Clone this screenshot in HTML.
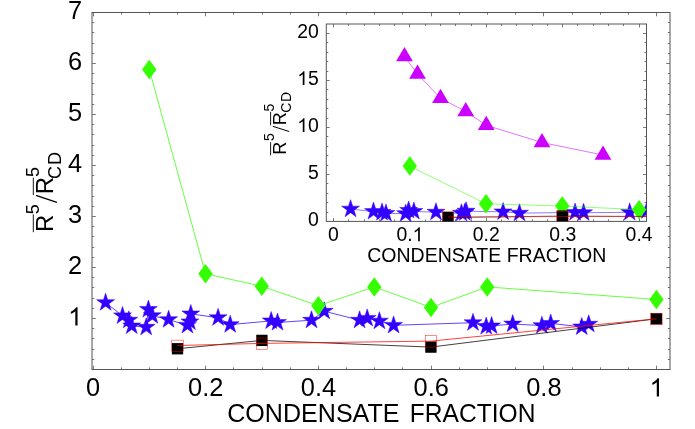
<!DOCTYPE html>
<html><head><meta charset="utf-8"><title>chart</title>
<style>
html,body{margin:0;padding:0;background:#fff;}
svg{display:block;will-change:transform;}
text{font-family:"Liberation Sans",sans-serif;fill:#000;}
</style></head><body>
<svg width="695" height="429" viewBox="0 0 695 429">
<rect x="0" y="0" width="695" height="429" fill="#fff"/>
<defs>
<clipPath id="cm"><rect x="92.0" y="12.5" width="578.0" height="357.0"/></clipPath>
<clipPath id="ci"><rect x="326.3" y="24.0" width="320.2" height="197.4"/></clipPath>
</defs>
<!-- main plot -->
<rect x="92.0" y="12.5" width="578.0" height="357.0" fill="#fff" stroke="#555" stroke-width="1"/>
<path d="M93.50,369.5v-3.8M93.50,12.5v3.8M121.50,369.5v-2.2M121.50,12.5v2.2M149.50,369.5v-2.2M149.50,12.5v2.2M177.50,369.5v-2.2M177.50,12.5v2.2M205.50,369.5v-3.8M205.50,12.5v3.8M233.50,369.5v-2.2M233.50,12.5v2.2M262.50,369.5v-2.2M262.50,12.5v2.2M290.50,369.5v-2.2M290.50,12.5v2.2M318.50,369.5v-3.8M318.50,12.5v3.8M346.50,369.5v-2.2M346.50,12.5v2.2M374.50,369.5v-2.2M374.50,12.5v2.2M402.50,369.5v-2.2M402.50,12.5v2.2M431.50,369.5v-3.8M431.50,12.5v3.8M459.50,369.5v-2.2M459.50,12.5v2.2M487.50,369.5v-2.2M487.50,12.5v2.2M515.50,369.5v-2.2M515.50,12.5v2.2M543.50,369.5v-3.8M543.50,12.5v3.8M572.50,369.5v-2.2M572.50,12.5v2.2M600.50,369.5v-2.2M600.50,12.5v2.2M628.50,369.5v-2.2M628.50,12.5v2.2M656.50,369.5v-3.8M656.50,12.5v3.8M92.0,359.50h2.2M670.0,359.50h-2.2M92.0,349.50h2.2M670.0,349.50h-2.2M92.0,338.50h2.2M670.0,338.50h-2.2M92.0,328.50h2.2M670.0,328.50h-2.2M92.0,318.50h3.8M670.0,318.50h-3.8M92.0,308.50h2.2M670.0,308.50h-2.2M92.0,298.50h2.2M670.0,298.50h-2.2M92.0,287.50h2.2M670.0,287.50h-2.2M92.0,277.50h2.2M670.0,277.50h-2.2M92.0,267.50h3.8M670.0,267.50h-3.8M92.0,257.50h2.2M670.0,257.50h-2.2M92.0,247.50h2.2M670.0,247.50h-2.2M92.0,236.50h2.2M670.0,236.50h-2.2M92.0,226.50h2.2M670.0,226.50h-2.2M92.0,216.50h3.8M670.0,216.50h-3.8M92.0,206.50h2.2M670.0,206.50h-2.2M92.0,196.50h2.2M670.0,196.50h-2.2M92.0,185.50h2.2M670.0,185.50h-2.2M92.0,175.50h2.2M670.0,175.50h-2.2M92.0,165.50h3.8M670.0,165.50h-3.8M92.0,155.50h2.2M670.0,155.50h-2.2M92.0,145.50h2.2M670.0,145.50h-2.2M92.0,134.50h2.2M670.0,134.50h-2.2M92.0,124.50h2.2M670.0,124.50h-2.2M92.0,114.50h3.8M670.0,114.50h-3.8M92.0,104.50h2.2M670.0,104.50h-2.2M92.0,94.50h2.2M670.0,94.50h-2.2M92.0,83.50h2.2M670.0,83.50h-2.2M92.0,73.50h2.2M670.0,73.50h-2.2M92.0,63.50h3.8M670.0,63.50h-3.8M92.0,53.50h2.2M670.0,53.50h-2.2M92.0,43.50h2.2M670.0,43.50h-2.2M92.0,32.50h2.2M670.0,32.50h-2.2M92.0,22.50h2.2M670.0,22.50h-2.2" stroke="#555" stroke-width="0.8" fill="none"/>
<g clip-path="url(#cm)">
<polyline points="105.60,302.60 122.50,315.80 128.80,320.20 131.70,325.90 146.20,327.20 148.40,309.50 152.30,315.60 168.60,319.60 187.40,325.30 189.90,321.90 190.80,313.90 218.10,317.70 230.20,324.60 271.20,320.90 277.50,322.50 311.50,320.20 324.20,311.20 359.60,320.20 367.20,318.30 379.40,321.10 393.60,325.30 473.00,322.70 486.20,326.50 491.60,325.90 512.70,324.00 541.90,325.60 550.70,323.40 581.70,326.90 588.70,324.20" fill="none" stroke="#3300ff" stroke-width="0.75"/>
<polygon points="105.60,293.20 107.71,299.69 114.54,299.70 109.02,303.71 111.13,310.20 105.60,306.19 100.07,310.20 102.18,303.71 96.66,299.70 103.49,299.69" fill="#3300ff" stroke="#3300ff" stroke-width="0.5"/>
<polygon points="122.50,306.40 124.61,312.89 131.44,312.90 125.92,316.91 128.03,323.40 122.50,319.39 116.97,323.40 119.08,316.91 113.56,312.90 120.39,312.89" fill="#3300ff" stroke="#3300ff" stroke-width="0.5"/>
<polygon points="128.80,310.80 130.91,317.29 137.74,317.30 132.22,321.31 134.33,327.80 128.80,323.79 123.27,327.80 125.38,321.31 119.86,317.30 126.69,317.29" fill="#3300ff" stroke="#3300ff" stroke-width="0.5"/>
<polygon points="131.70,316.50 133.81,322.99 140.64,323.00 135.12,327.01 137.23,333.50 131.70,329.49 126.17,333.50 128.28,327.01 122.76,323.00 129.59,322.99" fill="#3300ff" stroke="#3300ff" stroke-width="0.5"/>
<polygon points="146.20,317.80 148.31,324.29 155.14,324.30 149.62,328.31 151.73,334.80 146.20,330.79 140.67,334.80 142.78,328.31 137.26,324.30 144.09,324.29" fill="#3300ff" stroke="#3300ff" stroke-width="0.5"/>
<polygon points="148.40,300.10 150.51,306.59 157.34,306.60 151.82,310.61 153.93,317.10 148.40,313.09 142.87,317.10 144.98,310.61 139.46,306.60 146.29,306.59" fill="#3300ff" stroke="#3300ff" stroke-width="0.5"/>
<polygon points="152.30,306.20 154.41,312.69 161.24,312.70 155.72,316.71 157.83,323.20 152.30,319.19 146.77,323.20 148.88,316.71 143.36,312.70 150.19,312.69" fill="#3300ff" stroke="#3300ff" stroke-width="0.5"/>
<polygon points="168.60,310.20 170.71,316.69 177.54,316.70 172.02,320.71 174.13,327.20 168.60,323.19 163.07,327.20 165.18,320.71 159.66,316.70 166.49,316.69" fill="#3300ff" stroke="#3300ff" stroke-width="0.5"/>
<polygon points="187.40,315.90 189.51,322.39 196.34,322.40 190.82,326.41 192.93,332.90 187.40,328.89 181.87,332.90 183.98,326.41 178.46,322.40 185.29,322.39" fill="#3300ff" stroke="#3300ff" stroke-width="0.5"/>
<polygon points="189.90,312.50 192.01,318.99 198.84,319.00 193.32,323.01 195.43,329.50 189.90,325.49 184.37,329.50 186.48,323.01 180.96,319.00 187.79,318.99" fill="#3300ff" stroke="#3300ff" stroke-width="0.5"/>
<polygon points="190.80,304.50 192.91,310.99 199.74,311.00 194.22,315.01 196.33,321.50 190.80,317.49 185.27,321.50 187.38,315.01 181.86,311.00 188.69,310.99" fill="#3300ff" stroke="#3300ff" stroke-width="0.5"/>
<polygon points="218.10,308.30 220.21,314.79 227.04,314.80 221.52,318.81 223.63,325.30 218.10,321.29 212.57,325.30 214.68,318.81 209.16,314.80 215.99,314.79" fill="#3300ff" stroke="#3300ff" stroke-width="0.5"/>
<polygon points="230.20,315.20 232.31,321.69 239.14,321.70 233.62,325.71 235.73,332.20 230.20,328.19 224.67,332.20 226.78,325.71 221.26,321.70 228.09,321.69" fill="#3300ff" stroke="#3300ff" stroke-width="0.5"/>
<polygon points="271.20,311.50 273.31,317.99 280.14,318.00 274.62,322.01 276.73,328.50 271.20,324.49 265.67,328.50 267.78,322.01 262.26,318.00 269.09,317.99" fill="#3300ff" stroke="#3300ff" stroke-width="0.5"/>
<polygon points="277.50,313.10 279.61,319.59 286.44,319.60 280.92,323.61 283.03,330.10 277.50,326.09 271.97,330.10 274.08,323.61 268.56,319.60 275.39,319.59" fill="#3300ff" stroke="#3300ff" stroke-width="0.5"/>
<polygon points="311.50,310.80 313.61,317.29 320.44,317.30 314.92,321.31 317.03,327.80 311.50,323.79 305.97,327.80 308.08,321.31 302.56,317.30 309.39,317.29" fill="#3300ff" stroke="#3300ff" stroke-width="0.5"/>
<polygon points="324.20,301.80 326.31,308.29 333.14,308.30 327.62,312.31 329.73,318.80 324.20,314.79 318.67,318.80 320.78,312.31 315.26,308.30 322.09,308.29" fill="#3300ff" stroke="#3300ff" stroke-width="0.5"/>
<polygon points="359.60,310.80 361.71,317.29 368.54,317.30 363.02,321.31 365.13,327.80 359.60,323.79 354.07,327.80 356.18,321.31 350.66,317.30 357.49,317.29" fill="#3300ff" stroke="#3300ff" stroke-width="0.5"/>
<polygon points="367.20,308.90 369.31,315.39 376.14,315.40 370.62,319.41 372.73,325.90 367.20,321.89 361.67,325.90 363.78,319.41 358.26,315.40 365.09,315.39" fill="#3300ff" stroke="#3300ff" stroke-width="0.5"/>
<polygon points="379.40,311.70 381.51,318.19 388.34,318.20 382.82,322.21 384.93,328.70 379.40,324.69 373.87,328.70 375.98,322.21 370.46,318.20 377.29,318.19" fill="#3300ff" stroke="#3300ff" stroke-width="0.5"/>
<polygon points="393.60,315.90 395.71,322.39 402.54,322.40 397.02,326.41 399.13,332.90 393.60,328.89 388.07,332.90 390.18,326.41 384.66,322.40 391.49,322.39" fill="#3300ff" stroke="#3300ff" stroke-width="0.5"/>
<polygon points="473.00,313.30 475.11,319.79 481.94,319.80 476.42,323.81 478.53,330.30 473.00,326.29 467.47,330.30 469.58,323.81 464.06,319.80 470.89,319.79" fill="#3300ff" stroke="#3300ff" stroke-width="0.5"/>
<polygon points="486.20,317.10 488.31,323.59 495.14,323.60 489.62,327.61 491.73,334.10 486.20,330.09 480.67,334.10 482.78,327.61 477.26,323.60 484.09,323.59" fill="#3300ff" stroke="#3300ff" stroke-width="0.5"/>
<polygon points="491.60,316.50 493.71,322.99 500.54,323.00 495.02,327.01 497.13,333.50 491.60,329.49 486.07,333.50 488.18,327.01 482.66,323.00 489.49,322.99" fill="#3300ff" stroke="#3300ff" stroke-width="0.5"/>
<polygon points="512.70,314.60 514.81,321.09 521.64,321.10 516.12,325.11 518.23,331.60 512.70,327.59 507.17,331.60 509.28,325.11 503.76,321.10 510.59,321.09" fill="#3300ff" stroke="#3300ff" stroke-width="0.5"/>
<polygon points="541.90,316.20 544.01,322.69 550.84,322.70 545.32,326.71 547.43,333.20 541.90,329.19 536.37,333.20 538.48,326.71 532.96,322.70 539.79,322.69" fill="#3300ff" stroke="#3300ff" stroke-width="0.5"/>
<polygon points="550.70,314.00 552.81,320.49 559.64,320.50 554.12,324.51 556.23,331.00 550.70,326.99 545.17,331.00 547.28,324.51 541.76,320.50 548.59,320.49" fill="#3300ff" stroke="#3300ff" stroke-width="0.5"/>
<polygon points="581.70,317.50 583.81,323.99 590.64,324.00 585.12,328.01 587.23,334.50 581.70,330.49 576.17,334.50 578.28,328.01 572.76,324.00 579.59,323.99" fill="#3300ff" stroke="#3300ff" stroke-width="0.5"/>
<polygon points="588.70,314.80 590.81,321.29 597.64,321.30 592.12,325.31 594.23,331.80 588.70,327.79 583.17,331.80 585.28,325.31 579.76,321.30 586.59,321.29" fill="#3300ff" stroke="#3300ff" stroke-width="0.5"/>
<polyline points="149.25,69.50 205.50,273.75 261.75,286.25 318.40,305.70 374.30,286.90 431.00,307.40 487.20,286.90 656.40,299.50" fill="none" stroke="#33ff00" stroke-width="0.75"/>
<polygon points="149.25,59.75 156.45,69.50 149.25,79.25 142.05,69.50" fill="#33ff00"/>
<polygon points="205.50,264.00 212.70,273.75 205.50,283.50 198.30,273.75" fill="#33ff00"/>
<polygon points="261.75,276.50 268.95,286.25 261.75,296.00 254.55,286.25" fill="#33ff00"/>
<polygon points="318.40,295.95 325.60,305.70 318.40,315.45 311.20,305.70" fill="#33ff00"/>
<polygon points="374.30,277.15 381.50,286.90 374.30,296.65 367.10,286.90" fill="#33ff00"/>
<polygon points="431.00,297.65 438.20,307.40 431.00,317.15 423.80,307.40" fill="#33ff00"/>
<polygon points="487.20,277.15 494.40,286.90 487.20,296.65 480.00,286.90" fill="#33ff00"/>
<polygon points="656.40,289.75 663.60,299.50 656.40,309.25 649.20,299.50" fill="#33ff00"/>
<polyline points="177.50,348.75 261.90,340.40 430.90,347.10 656.40,318.80" fill="none" stroke="#000000" stroke-width="0.75"/>
<rect x="171.85" y="343.10" width="11.3" height="11.3" fill="#000000"/>
<rect x="256.25" y="334.75" width="11.3" height="11.3" fill="#000000"/>
<rect x="425.25" y="341.45" width="11.3" height="11.3" fill="#000000"/>
<rect x="650.75" y="313.15" width="11.3" height="11.3" fill="#000000"/>
<rect x="171.80" y="340.10" width="11.4" height="11.4" fill="none" stroke="#ff0000" stroke-width="0.45"/>
<rect x="256.20" y="338.00" width="11.4" height="11.4" fill="none" stroke="#ff0000" stroke-width="0.45"/>
<rect x="425.20" y="335.70" width="11.4" height="11.4" fill="none" stroke="#ff0000" stroke-width="0.45"/>
<rect x="650.70" y="313.40" width="11.4" height="11.4" fill="none" stroke="#ff0000" stroke-width="0.45"/>
<polyline points="177.50,345.50 261.90,343.40 430.90,341.10 656.40,318.80" fill="none" stroke="#ff0000" stroke-width="0.75"/>
</g>
<!-- inset -->
<rect x="255" y="18.0" width="393.5" height="252.0" fill="#fff"/>
<rect x="326.3" y="24.0" width="320.2" height="197.4" fill="#fff" stroke="#555" stroke-width="1"/>
<path d="M333.50,221.4v-3.4M333.50,24.0v3.4M348.50,221.4v-2.0M348.50,24.0v2.0M364.50,221.4v-2.0M364.50,24.0v2.0M379.50,221.4v-2.0M379.50,24.0v2.0M394.50,221.4v-2.0M394.50,24.0v2.0M409.50,221.4v-3.4M409.50,24.0v3.4M425.50,221.4v-2.0M425.50,24.0v2.0M440.50,221.4v-2.0M440.50,24.0v2.0M455.50,221.4v-2.0M455.50,24.0v2.0M471.50,221.4v-2.0M471.50,24.0v2.0M486.50,221.4v-3.4M486.50,24.0v3.4M501.50,221.4v-2.0M501.50,24.0v2.0M516.50,221.4v-2.0M516.50,24.0v2.0M532.50,221.4v-2.0M532.50,24.0v2.0M547.50,221.4v-2.0M547.50,24.0v2.0M562.50,221.4v-3.4M562.50,24.0v3.4M577.50,221.4v-2.0M577.50,24.0v2.0M593.50,221.4v-2.0M593.50,24.0v2.0M608.50,221.4v-2.0M608.50,24.0v2.0M623.50,221.4v-2.0M623.50,24.0v2.0M639.50,221.4v-3.4M639.50,24.0v3.4M326.3,212.50h2.0M646.5,212.50h-2.0M326.3,202.50h2.0M646.5,202.50h-2.0M326.3,193.50h2.0M646.5,193.50h-2.0M326.3,183.50h2.0M646.5,183.50h-2.0M326.3,174.50h3.4M646.5,174.50h-3.4M326.3,165.50h2.0M646.5,165.50h-2.0M326.3,155.50h2.0M646.5,155.50h-2.0M326.3,146.50h2.0M646.5,146.50h-2.0M326.3,136.50h2.0M646.5,136.50h-2.0M326.3,127.50h3.4M646.5,127.50h-3.4M326.3,118.50h2.0M646.5,118.50h-2.0M326.3,108.50h2.0M646.5,108.50h-2.0M326.3,99.50h2.0M646.5,99.50h-2.0M326.3,89.50h2.0M646.5,89.50h-2.0M326.3,80.50h3.4M646.5,80.50h-3.4M326.3,71.50h2.0M646.5,71.50h-2.0M326.3,61.50h2.0M646.5,61.50h-2.0M326.3,52.50h2.0M646.5,52.50h-2.0M326.3,42.50h2.0M646.5,42.50h-2.0M326.3,33.50h3.4M646.5,33.50h-3.4" stroke="#555" stroke-width="0.8" fill="none"/>
<g clip-path="url(#ci)">
<polyline points="404.50,56.50 417.50,74.00 440.50,98.25 465.75,111.50 486.25,125.25 542.00,142.50 603.00,155.00" fill="none" stroke="#cc00ff" stroke-width="0.55"/>
<polygon points="404.50,47.00 412.88,61.25 396.12,61.25" fill="#cc00ff"/>
<polygon points="417.50,64.50 425.88,78.75 409.12,78.75" fill="#cc00ff"/>
<polygon points="440.50,88.75 448.88,103.00 432.12,103.00" fill="#cc00ff"/>
<polygon points="465.75,102.00 474.12,116.25 457.38,116.25" fill="#cc00ff"/>
<polygon points="486.25,115.75 494.62,130.00 477.88,130.00" fill="#cc00ff"/>
<polygon points="542.00,133.00 550.38,147.25 533.62,147.25" fill="#cc00ff"/>
<polygon points="603.00,145.50 611.38,159.75 594.62,159.75" fill="#cc00ff"/>
<polyline points="350.58,209.07 373.49,211.50 382.03,212.31 385.96,213.36 405.62,213.60 408.60,210.34 413.89,211.47 435.98,212.20 461.47,213.25 464.85,212.63 466.07,211.15 503.08,211.85 519.48,213.12 575.06,212.44 583.60,212.74 629.69,212.31 646.91,210.65 694.90,212.31 705.20,211.96 721.74,212.48 740.98,213.25 848.62,212.77 866.51,213.47 873.83,213.36 902.43,213.01 942.02,213.31 953.94,212.90 995.97,213.55 1005.46,213.05" fill="none" stroke="#3300ff" stroke-width="0.55"/>
<polygon points="350.58,199.67 352.69,206.16 359.52,206.16 354.00,210.18 356.11,216.67 350.58,212.66 345.06,216.67 347.17,210.18 341.64,206.16 348.47,206.16" fill="#3300ff" stroke="#3300ff" stroke-width="0.5"/>
<polygon points="373.49,202.10 375.60,208.60 382.43,208.60 376.90,212.61 379.01,219.11 373.49,215.09 367.96,219.11 370.07,212.61 364.55,208.60 371.38,208.60" fill="#3300ff" stroke="#3300ff" stroke-width="0.5"/>
<polygon points="382.03,202.91 384.14,209.41 390.97,209.41 385.44,213.42 387.55,219.92 382.03,215.90 376.50,219.92 378.61,213.42 373.09,209.41 379.92,209.41" fill="#3300ff" stroke="#3300ff" stroke-width="0.5"/>
<polygon points="385.96,203.96 388.07,210.46 394.90,210.46 389.38,214.47 391.49,220.97 385.96,216.95 380.44,220.97 382.55,214.47 377.02,210.46 383.85,210.46" fill="#3300ff" stroke="#3300ff" stroke-width="0.5"/>
<polygon points="405.62,204.20 407.73,210.70 414.56,210.70 409.03,214.71 411.14,221.21 405.62,217.19 400.09,221.21 402.20,214.71 396.68,210.70 403.51,210.70" fill="#3300ff" stroke="#3300ff" stroke-width="0.5"/>
<polygon points="408.60,200.94 410.71,207.44 417.54,207.44 412.01,211.45 414.12,217.95 408.60,213.93 403.07,217.95 405.18,211.45 399.66,207.44 406.49,207.44" fill="#3300ff" stroke="#3300ff" stroke-width="0.5"/>
<polygon points="413.89,202.07 416.00,208.56 422.83,208.56 417.30,212.58 419.41,219.07 413.89,215.06 408.36,219.07 410.47,212.58 404.95,208.56 411.77,208.56" fill="#3300ff" stroke="#3300ff" stroke-width="0.5"/>
<polygon points="435.98,202.80 438.09,209.30 444.92,209.30 439.40,213.31 441.51,219.81 435.98,215.79 430.46,219.81 432.57,213.31 427.04,209.30 433.87,209.30" fill="#3300ff" stroke="#3300ff" stroke-width="0.5"/>
<polygon points="461.47,203.85 463.58,210.35 470.41,210.35 464.88,214.36 466.99,220.86 461.47,216.84 455.94,220.86 458.05,214.36 452.53,210.35 459.36,210.35" fill="#3300ff" stroke="#3300ff" stroke-width="0.5"/>
<polygon points="464.85,203.23 466.97,209.72 473.79,209.72 468.27,213.74 470.38,220.23 464.85,216.22 459.33,220.23 461.44,213.74 455.91,209.72 462.74,209.72" fill="#3300ff" stroke="#3300ff" stroke-width="0.5"/>
<polygon points="466.07,201.75 468.19,208.25 475.01,208.25 469.49,212.26 471.60,218.76 466.07,214.74 460.55,218.76 462.66,212.26 457.13,208.25 463.96,208.25" fill="#3300ff" stroke="#3300ff" stroke-width="0.5"/>
<polygon points="503.08,202.45 505.19,208.95 512.02,208.95 506.50,212.96 508.61,219.46 503.08,215.44 497.56,219.46 499.67,212.96 494.14,208.95 500.97,208.95" fill="#3300ff" stroke="#3300ff" stroke-width="0.5"/>
<polygon points="519.48,203.72 521.60,210.22 528.42,210.22 522.90,214.23 525.01,220.73 519.48,216.72 513.96,220.73 516.07,214.23 510.54,210.22 517.37,210.22" fill="#3300ff" stroke="#3300ff" stroke-width="0.5"/>
<polygon points="575.06,203.04 577.17,209.54 584.00,209.54 578.48,213.55 580.59,220.05 575.06,216.03 569.54,220.05 571.65,213.55 566.12,209.54 572.95,209.54" fill="#3300ff" stroke="#3300ff" stroke-width="0.5"/>
<polygon points="583.60,203.34 585.71,209.83 592.54,209.83 587.02,213.85 589.13,220.34 583.60,216.33 578.08,220.34 580.19,213.85 574.66,209.83 581.49,209.83" fill="#3300ff" stroke="#3300ff" stroke-width="0.5"/>
<polygon points="629.69,202.91 631.80,209.41 638.63,209.41 633.11,213.42 635.22,219.92 629.69,215.90 624.17,219.92 626.28,213.42 620.75,209.41 627.58,209.41" fill="#3300ff" stroke="#3300ff" stroke-width="0.5"/>
<polygon points="646.91,201.25 649.02,207.75 655.85,207.75 650.32,211.76 652.43,218.26 646.91,214.25 641.38,218.26 643.49,211.76 637.97,207.75 644.80,207.75" fill="#3300ff" stroke="#3300ff" stroke-width="0.5"/>
<polygon points="694.90,202.91 697.01,209.41 703.84,209.41 698.31,213.42 700.42,219.92 694.90,215.90 689.37,219.92 691.48,213.42 685.96,209.41 692.78,209.41" fill="#3300ff" stroke="#3300ff" stroke-width="0.5"/>
<polygon points="705.20,202.56 707.31,209.06 714.14,209.06 708.61,213.07 710.72,219.57 705.20,215.55 699.67,219.57 701.78,213.07 696.26,209.06 703.09,209.06" fill="#3300ff" stroke="#3300ff" stroke-width="0.5"/>
<polygon points="721.74,203.08 723.85,209.57 730.68,209.57 725.15,213.59 727.26,220.08 721.74,216.07 716.21,220.08 718.32,213.59 712.80,209.57 719.63,209.57" fill="#3300ff" stroke="#3300ff" stroke-width="0.5"/>
<polygon points="740.98,203.85 743.10,210.35 749.92,210.35 744.40,214.36 746.51,220.86 740.98,216.84 735.46,220.86 737.57,214.36 732.04,210.35 738.87,210.35" fill="#3300ff" stroke="#3300ff" stroke-width="0.5"/>
<polygon points="848.62,203.37 850.73,209.87 857.56,209.87 852.03,213.88 854.14,220.38 848.62,216.36 843.09,220.38 845.20,213.88 839.68,209.87 846.51,209.87" fill="#3300ff" stroke="#3300ff" stroke-width="0.5"/>
<polygon points="866.51,204.07 868.62,210.57 875.45,210.57 869.93,214.58 872.04,221.08 866.51,217.07 860.99,221.08 863.10,214.58 857.57,210.57 864.40,210.57" fill="#3300ff" stroke="#3300ff" stroke-width="0.5"/>
<polygon points="873.83,203.96 875.94,210.46 882.77,210.46 877.25,214.47 879.36,220.97 873.83,216.95 868.31,220.97 870.42,214.47 864.89,210.46 871.72,210.46" fill="#3300ff" stroke="#3300ff" stroke-width="0.5"/>
<polygon points="902.43,203.61 904.54,210.11 911.37,210.11 905.85,214.12 907.96,220.62 902.43,216.60 896.91,220.62 899.02,214.12 893.49,210.11 900.32,210.11" fill="#3300ff" stroke="#3300ff" stroke-width="0.5"/>
<polygon points="942.02,203.91 944.13,210.40 950.96,210.40 945.43,214.42 947.54,220.91 942.02,216.90 936.49,220.91 938.60,214.42 933.08,210.40 939.91,210.40" fill="#3300ff" stroke="#3300ff" stroke-width="0.5"/>
<polygon points="953.94,203.50 956.06,210.00 962.88,210.00 957.36,214.01 959.47,220.51 953.94,216.49 948.42,220.51 950.53,214.01 945.01,210.00 951.83,210.00" fill="#3300ff" stroke="#3300ff" stroke-width="0.5"/>
<polygon points="995.97,204.15 998.08,210.64 1004.91,210.64 999.38,214.66 1001.49,221.15 995.97,217.14 990.44,221.15 992.55,214.66 987.03,210.64 993.86,210.64" fill="#3300ff" stroke="#3300ff" stroke-width="0.5"/>
<polygon points="1005.46,203.65 1007.57,210.15 1014.40,210.15 1008.87,214.16 1010.98,220.66 1005.46,216.64 999.93,220.66 1002.04,214.16 996.52,210.15 1003.35,210.15" fill="#3300ff" stroke="#3300ff" stroke-width="0.5"/>
<polyline points="409.75,166.11 486.00,203.75 562.25,206.06 639.05,209.64 714.82,206.18 791.68,209.95 867.87,206.18 1097.23,208.50" fill="none" stroke="#33ff00" stroke-width="0.55"/>
<polygon points="409.75,156.36 416.95,166.11 409.75,175.86 402.55,166.11" fill="#33ff00"/>
<polygon points="486.00,194.00 493.20,203.75 486.00,213.50 478.80,203.75" fill="#33ff00"/>
<polygon points="562.25,196.31 569.45,206.06 562.25,215.81 555.05,206.06" fill="#33ff00"/>
<polygon points="639.05,199.89 646.25,209.64 639.05,219.39 631.85,209.64" fill="#33ff00"/>
<polygon points="714.82,196.43 722.02,206.18 714.82,215.93 707.62,206.18" fill="#33ff00"/>
<polygon points="791.68,200.20 798.88,209.95 791.68,219.70 784.48,209.95" fill="#33ff00"/>
<polygon points="867.87,196.43 875.07,206.18 867.87,215.93 860.67,206.18" fill="#33ff00"/>
<polygon points="1097.23,198.75 1104.43,208.50 1097.23,218.25 1090.03,208.50" fill="#33ff00"/>
<polyline points="448.05,217.58 562.46,216.04 791.55,217.27 1097.23,212.06" fill="none" stroke="#000000" stroke-width="0.55"/>
<rect x="442.40" y="211.93" width="11.3" height="11.3" fill="#000000"/>
<rect x="556.81" y="210.39" width="11.3" height="11.3" fill="#000000"/>
<rect x="785.90" y="211.62" width="11.3" height="11.3" fill="#000000"/>
<rect x="1091.58" y="206.41" width="11.3" height="11.3" fill="#000000"/>
<rect x="442.35" y="211.58" width="11.4" height="11.4" fill="none" stroke="#ff0000" stroke-width="0.45"/>
<rect x="556.76" y="211.19" width="11.4" height="11.4" fill="none" stroke="#ff0000" stroke-width="0.45"/>
<rect x="785.85" y="210.77" width="11.4" height="11.4" fill="none" stroke="#ff0000" stroke-width="0.45"/>
<rect x="1091.53" y="206.66" width="11.4" height="11.4" fill="none" stroke="#ff0000" stroke-width="0.45"/>
<polyline points="448.05,216.98 562.46,216.59 791.55,216.17 1097.23,212.06" fill="none" stroke="#ff0000" stroke-width="0.55"/>
</g>
<!-- labels -->
<text x="85.94" y="396.40" font-size="25.4">0</text>
<text x="188.07" y="396.40" font-size="25.4">0</text><text x="202.19" y="396.40" font-size="25.4">.</text><text x="209.25" y="396.40" font-size="25.4">2</text>
<text x="300.79" y="396.40" font-size="25.4">0</text><text x="314.91" y="396.40" font-size="25.4">.</text><text x="321.97" y="396.40" font-size="25.4">4</text>
<text x="413.51" y="396.40" font-size="25.4">0</text><text x="427.63" y="396.40" font-size="25.4">.</text><text x="434.69" y="396.40" font-size="25.4">6</text>
<text x="526.23" y="396.40" font-size="25.4">0</text><text x="540.35" y="396.40" font-size="25.4">.</text><text x="547.41" y="396.40" font-size="25.4">8</text>
<path transform="translate(649.54,396.40) scale(0.01240)" d="M763 0L583 0L583 -1147Q518 -1085 412.5 -1023Q307 -961 223 -930L223 -1104Q374 -1175 487 -1276Q600 -1377 647 -1472L763 -1472Z" fill="#000"/>
<path transform="translate(68.08,325.40) scale(0.01240)" d="M763 0L583 0L583 -1147Q518 -1085 412.5 -1023Q307 -961 223 -930L223 -1104Q374 -1175 487 -1276Q600 -1377 647 -1472L763 -1472Z" fill="#000"/>
<text x="68.08" y="274.40" font-size="25.4">2</text>
<text x="68.08" y="223.40" font-size="25.4">3</text>
<text x="68.08" y="172.40" font-size="25.4">4</text>
<text x="68.08" y="121.40" font-size="25.4">5</text>
<text x="68.08" y="70.40" font-size="25.4">6</text>
<text x="68.08" y="19.40" font-size="25.4">7</text>
<text transform="translate(227.2,422.3) scale(0.988,1)" font-size="25.4">CONDENSATE</text>
<text transform="translate(409.8,422.3) scale(0.968,1)" font-size="25.4">FRACTION</text>
<text x="328.11" y="241.20" font-size="19.4">0</text>
<text x="396.42" y="241.20" font-size="19.4">0</text><text x="407.20" y="241.20" font-size="19.4">.</text><path transform="translate(412.60,241.20) scale(0.00947)" d="M763 0L583 0L583 -1147Q518 -1085 412.5 -1023Q307 -961 223 -930L223 -1104Q374 -1175 487 -1276Q600 -1377 647 -1472L763 -1472Z" fill="#000"/>
<text x="472.82" y="241.20" font-size="19.4">0</text><text x="483.60" y="241.20" font-size="19.4">.</text><text x="489.00" y="241.20" font-size="19.4">2</text>
<text x="549.22" y="241.20" font-size="19.4">0</text><text x="560.00" y="241.20" font-size="19.4">.</text><text x="565.40" y="241.20" font-size="19.4">3</text>
<text x="625.62" y="241.20" font-size="19.4">0</text><text x="636.40" y="241.20" font-size="19.4">.</text><text x="641.80" y="241.20" font-size="19.4">4</text>
<text x="308.01" y="226.10" font-size="19.4">0</text>
<text x="308.01" y="179.10" font-size="19.4">5</text>
<path transform="translate(297.23,132.10) scale(0.00947)" d="M763 0L583 0L583 -1147Q518 -1085 412.5 -1023Q307 -961 223 -930L223 -1104Q374 -1175 487 -1276Q600 -1377 647 -1472L763 -1472Z" fill="#000"/><text x="308.01" y="132.10" font-size="19.4">0</text>
<path transform="translate(297.23,85.10) scale(0.00947)" d="M763 0L583 0L583 -1147Q518 -1085 412.5 -1023Q307 -961 223 -930L223 -1104Q374 -1175 487 -1276Q600 -1377 647 -1472L763 -1472Z" fill="#000"/><text x="308.01" y="85.10" font-size="19.4">5</text>
<text x="297.23" y="38.10" font-size="19.4">2</text><text x="308.01" y="38.10" font-size="19.4">0</text>
<text x="486.8" y="262.2" font-size="19.5" text-anchor="middle">CONDENSATE FRACTION</text>
<g transform="translate(53.0,232.2) rotate(-90)">
<text x="0.2" y="0" font-size="24">R</text>
<text x="18.0" y="-14.2" font-size="18">5</text>
<text x="37.9" y="0" font-size="24">R</text>
<text x="55.3" y="-14.2" font-size="18">5</text>
<text x="53.3" y="7.7" font-size="18" letter-spacing="0.90">CD</text>
<path d="M0,-19.7H17.8M37.1,-19.7H54.5" stroke="#000" stroke-width="0.9" fill="none"/>
</g>
<g transform="translate(286.0,155.3) rotate(-90)">
<text x="0.5" y="0" font-size="18">R</text>
<text x="14.2" y="-11.7" font-size="14">5</text>
<text x="30.0" y="0" font-size="18">R</text>
<text x="43.8" y="-11.7" font-size="14">5</text>
<text x="42.5" y="5.1" font-size="14" letter-spacing="0.70">CD</text>
<path d="M0,-15.4H13.1M30.0,-15.4H43.5" stroke="#000" stroke-width="0.9" fill="none"/>
</g>
<path d="M36.0,195.3L56.9,202.3" stroke="#000" stroke-width="1.3" fill="none"/>
<path d="M272.8,126.3L289.2,131.5" stroke="#000" stroke-width="1.0" fill="none"/>
</svg>
</body></html>
